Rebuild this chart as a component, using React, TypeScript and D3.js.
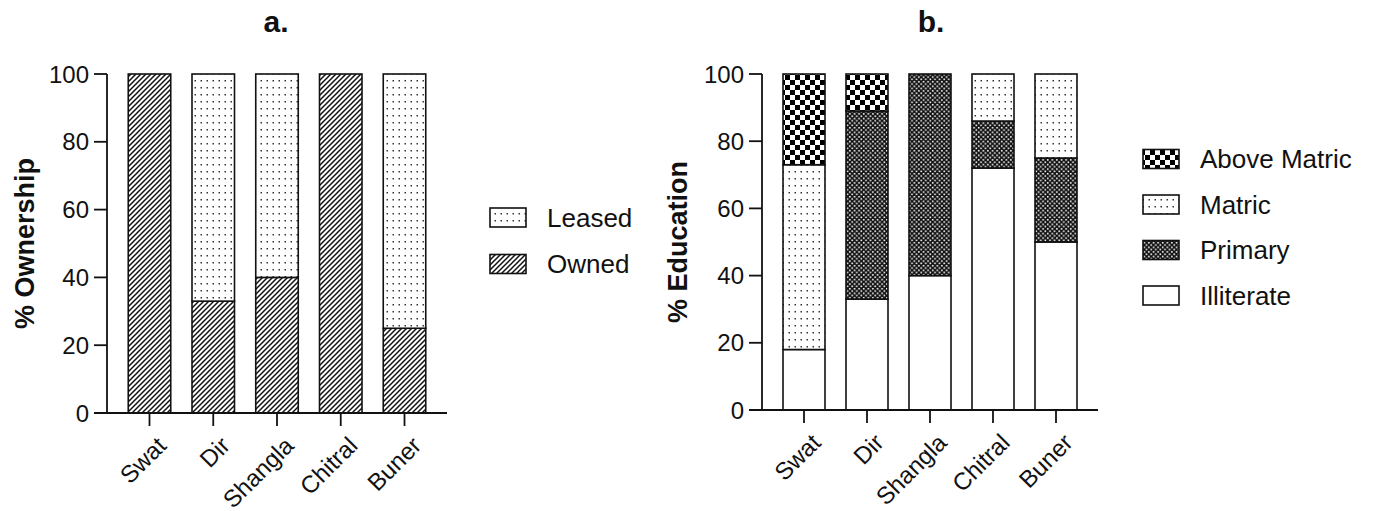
import React from "react";
import * as d3 from "d3";

const regions = ["Swat", "Dir", "Shangla", "Chitral", "Buner"];
const owned = [100, 33, 40, 100, 25];
const leased = [0, 67, 60, 0, 75];
const illiterate = [18, 33, 40, 72, 50];
const primary = [0, 56, 60, 14, 25];
const matric = [55, 0, 0, 14, 25];
const aboveMatric = [27, 11, 0, 0, 0];
const yTicks = [0, 20, 40, 60, 80, 100];

const ownershipKeys = ["Owned", "Leased"];
const educationKeys = ["Illiterate", "Primary", "Matric", "Above Matric"];

const FONT = "'Liberation Sans', Arial, Helvetica, sans-serif";

const patternFor: Record<string, string> = {
  Owned: "url(#hatch)",
  Leased: "url(#dots)",
  Illiterate: "#ffffff",
  Primary: "url(#fine)",
  Matric: "url(#dots)",
  "Above Matric": "url(#coarse)",
};

type PanelProps = {
  title: string;
  titleX: number;
  yLabel: string;
  yLabelX: number;
  axisX: number;
  axisEnd: number;
  y0: number;
  y100: number;
  keys: string[];
  rows: Record<string, number>[];
  legendX: number;
  legendYs: number[];
  legendKeys: string[];
};

function Panel(p: PanelProps) {
  const x = d3
    .scaleBand<string>()
    .domain(regions)
    .range([p.axisX, p.axisEnd])
    .paddingInner(1 / 3)
    .paddingOuter(1 / 3);
  const y = d3.scaleLinear().domain([0, 100]).range([p.y0, p.y100]);
  const stack = d3.stack<Record<string, number>>().keys(p.keys);
  const series = stack(p.rows);
  const tickLen = 13;
  return (
    <g>
      <text
        x={p.titleX}
        y={32}
        textAnchor="middle"
        fontFamily={FONT}
        fontWeight="bold"
        fontSize={30}
        fill="#111"
      >
        {p.title}
      </text>
      <text
        transform={`translate(${p.yLabelX},${(p.y0 + p.y100) / 2}) rotate(-90)`}
        textAnchor="middle"
        dominantBaseline="central"
        fontFamily={FONT}
        fontWeight="bold"
        fontSize={27}
        fill="#111"
      >
        {p.yLabel}
      </text>
      {series.map((s) =>
        s.map((d, i) => {
          const h = y(d[0]) - y(d[1]);
          if (h <= 0) return null;
          return (
            <rect
              key={s.key + i}
              x={x(regions[i])!}
              y={y(d[1])}
              width={x.bandwidth()}
              height={h}
              fill={patternFor[s.key]}
              stroke="#111"
              strokeWidth={1.6}
            />
          );
        })
      )}
      {/* y axis */}
      <line x1={p.axisX} x2={p.axisX} y1={p.y100} y2={p.y0} stroke="#111" strokeWidth={1.8} />
      {yTicks.map((t) => (
        <g key={t}>
          <line
            x1={p.axisX - tickLen}
            x2={p.axisX}
            y1={y(t)}
            y2={y(t)}
            stroke="#111"
            strokeWidth={1.8}
          />
          <text
            x={p.axisX - tickLen - 5}
            y={y(t)}
            textAnchor="end"
            dominantBaseline="central"
            fontFamily={FONT}
            fontSize={24}
            fill="#111"
          >
            {t}
          </text>
        </g>
      ))}
      {/* x axis */}
      <line x1={p.axisX - tickLen} x2={p.axisEnd} y1={p.y0} y2={p.y0} stroke="#111" strokeWidth={1.8} />
      {regions.map((r) => {
        const cx = x(r)! + x.bandwidth() / 2;
        return (
          <g key={r}>
            <line x1={cx} x2={cx} y1={p.y0} y2={p.y0 + 13} stroke="#111" strokeWidth={1.8} />
            <text
              transform={`translate(${cx + 6},${p.y0 + 22}) rotate(-45)`}
              textAnchor="end"
              dy="0.72em"
              fontFamily={FONT}
              fontSize={24}
              fill="#111"
            >
              {r}
            </text>
          </g>
        );
      })}
      {/* legend */}
      {p.legendKeys.map((k, i) => (
        <g key={k}>
          <rect
            x={p.legendX}
            y={p.legendYs[i] - 9.5}
            width={36}
            height={19}
            fill={patternFor[k]}
            stroke="#111"
            strokeWidth={1.6}
          />
          <text
            x={p.legendX + 57}
            y={p.legendYs[i]}
            dominantBaseline="central"
            fontFamily={FONT}
            fontSize={26}
            fill="#111"
          >
            {k}
          </text>
        </g>
      ))}
    </g>
  );
}

export default function App() {
  const ownershipRows = regions.map((r, i) => ({ Owned: owned[i], Leased: leased[i] }));
  const educationRows = regions.map((r, i) => ({
    Illiterate: illiterate[i],
    Primary: primary[i],
    Matric: matric[i],
    "Above Matric": aboveMatric[i],
  }));
  return (
    <svg
      width={1373}
      height={511}
      style={{ position: "absolute", left: 0, top: 0, background: "#fff" }}
    >
      <defs>
        <pattern id="hatch" patternUnits="userSpaceOnUse" width={5} height={5}>
          <rect width={5} height={5} fill="#fff" />
          <path d="M-1,1 l2,-2 M0,5 l5,-5 M4,6 l2,-2" stroke="#111" strokeWidth={1.5} />
        </pattern>
        <pattern id="dots" patternUnits="userSpaceOnUse" width={6} height={7}>
          <rect width={6} height={7} fill="#fff" />
          <rect x={2.5} y={3} width={1.5} height={1.5} fill="#333" />
        </pattern>
        <pattern id="fine" patternUnits="userSpaceOnUse" width={4.6} height={4.6}>
          <rect width={4.6} height={4.6} fill="#111" />
          <rect x={0.4} y={0.4} width={1.6} height={1.6} fill="#fff" />
          <rect x={2.7} y={2.7} width={1.6} height={1.6} fill="#fff" />
        </pattern>
        <pattern id="coarse" patternUnits="userSpaceOnUse" width={10} height={10}>
          <rect width={10} height={10} fill="#fff" />
          <rect x={0} y={0} width={5} height={5} fill="#000" />
          <rect x={5} y={5} width={5} height={5} fill="#000" />
        </pattern>
      </defs>
      <rect width={1373} height={511} fill="#fff" />
      <Panel
        title="a."
        titleX={276}
        yLabel="% Ownership"
        yLabelX={25}
        axisX={107}
        axisEnd={447}
        y0={413}
        y100={74}
        keys={ownershipKeys}
        rows={ownershipRows}
        legendX={490}
        legendYs={[217.5, 264]}
        legendKeys={["Leased", "Owned"]}
      />
      <Panel
        title="b."
        titleX={931}
        yLabel="% Education"
        yLabelX={678}
        axisX={762}
        axisEnd={1098}
        y0={410}
        y100={74}
        keys={educationKeys}
        rows={educationRows}
        legendX={1143}
        legendYs={[159, 204.5, 250, 295.5]}
        legendKeys={["Above Matric", "Matric", "Primary", "Illiterate"]}
      />
    </svg>
  );
}
